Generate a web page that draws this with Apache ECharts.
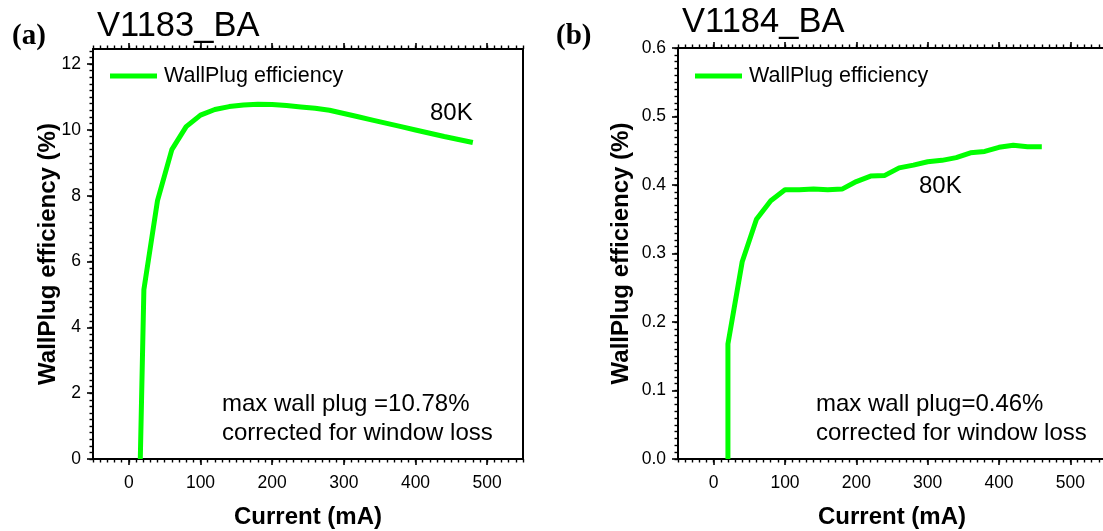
<!DOCTYPE html>
<html>
<head>
<meta charset="utf-8">
<script src="https://cdn.jsdelivr.net/npm/echarts@6/dist/echarts.min.js"></script>
<style>
html,body{margin:0;padding:0;background:#fff;}
#chart{width:1103px;height:531px;}
</style>
</head>
<body>
<div id="chart"></div>
<script>
// ---- data ----
const currentA = [16, 21, 40, 60, 80, 100, 120, 140, 160, 180, 200, 220, 240, 260, 280, 300, 320, 340, 360, 380, 400, 420, 440, 460, 480];
const wpeA     = [0, 5.15, 7.85, 9.4, 10.1, 10.45, 10.62, 10.71, 10.76, 10.78, 10.77, 10.74, 10.70, 10.66, 10.60, 10.50, 10.40, 10.30, 10.20, 10.10, 10.0, 9.90, 9.80, 9.71, 9.62];
const currentB = [20, 20, 40, 60, 80, 100, 120, 140, 160, 180, 200, 220, 240, 260, 280, 300, 320, 340, 360, 380, 400, 420, 440, 460];
const wpeB     = [0, 0.168, 0.288, 0.350, 0.377, 0.393, 0.393, 0.394, 0.393, 0.394, 0.405, 0.413, 0.414, 0.425, 0.429, 0.434, 0.436, 0.440, 0.447, 0.449, 0.455, 0.458, 0.456, 0.456];

const xTickLabels  = [0, 100, 200, 300, 400, 500];
const yTickLabelsA = [0, 2, 4, 6, 8, 10, 12];
const yTickLabelsB = [0.0, 0.1, 0.2, 0.3, 0.4, 0.5, 0.6];

const seriesName = 'WallPlug efficiency';
const titleA = 'V1183_BA', titleB = 'V1184_BA';
const panelA = '(a)', panelB = '(b)';
const tempLabel = '80K';
const noteA = ['max wall plug =10.78%', 'corrected for window loss'];
const noteB = ['max wall plug=0.46%', 'corrected for window loss'];
const xName = 'Current (mA)';
const yName = 'WallPlug efficiency (%)';

// ---- helpers ----
const SANS = "'Liberation Sans', Arial, sans-serif";
const SERIF = "'Liberation Serif', 'Times New Roman', serif";
const BLACK = '#000';
const GREEN = '#00ff00';

function steps(from, to, step) {
  const out = [];
  const n = Math.round((to - from) / step);
  for (let i = 0; i <= n; i++) out.push(+(from + i * step).toFixed(6));
  return out;
}
const xMin = -50, xMax = 550;
const xMinor = steps(-50, 550, 10);
const yMaxA = 12.46, yMaxB = 0.6;
const yMinorA = steps(0, 12.4, 0.2);
const yMinorB = steps(0, 0.6, 0.01);

const lineStyle = { color: BLACK, width: 2 };
const noLine = { show: false, onZero: false };
const frameLine = { show: true, onZero: false, lineStyle };
const majorTick = { color: BLACK, width: 1.6 };
const minorTick = { color: BLACK, width: 1.4 };

function xAxes(gridIndex, withName) {
  return [
    { type: 'value', gridIndex, position: 'bottom', min: xMin, max: xMax,
      axisLine: frameLine,
      axisTick: { show: true, inside: false, length: 6, lineStyle: majorTick, customValues: xTickLabels },
      axisLabel: { show: true, customValues: xTickLabels, fontSize: 17.5, color: BLACK, fontFamily: SANS, margin: 15 },
      splitLine: { show: false },
      name: withName ? xName : '', nameLocation: 'middle', nameGap: 46, nameMoveOverlap: false,
      nameTextStyle: { fontSize: 24, fontWeight: 'bold', color: BLACK, fontFamily: SANS } },
    { type: 'value', gridIndex, position: 'bottom', min: xMin, max: xMax,
      axisLine: noLine,
      axisTick: { show: true, length: 3.5, lineStyle: minorTick, customValues: xMinor },
      axisLabel: { show: false }, splitLine: { show: false } },
    { type: 'value', gridIndex, position: 'top', min: xMin, max: xMax,
      axisLine: frameLine,
      axisTick: { show: true, length: 6, lineStyle: majorTick, customValues: xTickLabels },
      axisLabel: { show: false }, splitLine: { show: false } },
    { type: 'value', gridIndex, position: 'top', min: xMin, max: xMax,
      axisLine: noLine,
      axisTick: { show: true, length: 3.5, lineStyle: minorTick, customValues: xMinor },
      axisLabel: { show: false }, splitLine: { show: false } }
  ];
}
function yAxes(gridIndex, yMax, labels, minor, fmt) {
  return [
    { type: 'value', gridIndex, position: 'left', min: 0, max: yMax,
      axisLine: frameLine,
      axisTick: { show: true, length: 6, lineStyle: majorTick, customValues: labels },
      axisLabel: { show: true, customValues: labels, fontSize: 17.5, color: BLACK, fontFamily: SANS, margin: 12, formatter: fmt },
      splitLine: { show: false },
      name: yName, nameLocation: 'middle', nameGap: gridIndex === 0 ? 33 : 45,
      nameMoveOverlap: false,
      nameTextStyle: { fontSize: 24, fontWeight: 'bold', color: BLACK, fontFamily: SANS } },
    { type: 'value', gridIndex, position: 'left', min: 0, max: yMax,
      axisLine: noLine,
      axisTick: { show: true, length: 3.5, lineStyle: minorTick, customValues: minor },
      axisLabel: { show: false }, splitLine: { show: false } },
    { type: 'value', gridIndex, position: 'right', min: 0, max: yMax,
      axisLine: frameLine,
      axisTick: { show: false }, axisLabel: { show: false }, splitLine: { show: false } }
  ];
}

function txt(x, y, text, fontSize, opts) {
  opts = opts || {};
  return { type: 'text', x: 0, y: 0, silent: true, z: 100,
    style: { x, y, text, fill: BLACK, fontSize, fontFamily: opts.family || SANS,
      fontWeight: opts.weight || 'normal', align: 'left', verticalAlign: 'middle' } };
}

const chart = echarts.init(document.getElementById('chart'), null, { renderer: 'canvas' });
const option = {
  animation: false,
  backgroundColor: '#fff',
  grid: [
    { left: 93, top: 49, width: 430, height: 410, containLabel: false, outerBoundsMode: 'none' },
    { left: 678, top: 48, width: 428, height: 411, containLabel: false, outerBoundsMode: 'none' }
  ],
  xAxis: [...xAxes(0, true), ...xAxes(1, true)],
  yAxis: [...yAxes(0, yMaxA, yTickLabelsA, yMinorA, v => String(v)),
          ...yAxes(1, yMaxB, yTickLabelsB, yMinorB, v => v.toFixed(1))],
  legend: [
    { data: [seriesName], left: 110, top: 65, padding: 0, icon: 'rect', itemWidth: 47, itemHeight: 5,
      selectedMode: false, textStyle: { fontSize: 21.5, color: BLACK, fontFamily: SANS, padding: [0, 0, 0, 2] } },
    { data: [seriesName], left: 695, top: 65, padding: 0, icon: 'rect', itemWidth: 47, itemHeight: 5,
      selectedMode: false, textStyle: { fontSize: 21.5, color: BLACK, fontFamily: SANS, padding: [0, 0, 0, 2] } }
  ],
  series: [
    { name: seriesName, type: 'line', xAxisIndex: 0, yAxisIndex: 0,
      data: currentA.map((c, i) => [c, wpeA[i]]), showSymbol: false, symbol: 'none',
      color: GREEN, itemStyle: { color: GREEN }, lineStyle: { color: GREEN, width: 5 } },
    { name: seriesName, type: 'line', xAxisIndex: 4, yAxisIndex: 3,
      data: currentB.map((c, i) => [c, wpeB[i]]), showSymbol: false, symbol: 'none',
      color: GREEN, itemStyle: { color: GREEN }, lineStyle: { color: GREEN, width: 5 } }
  ],
  graphic: [
    txt(12, 37, panelA, 29, { family: SERIF, weight: 'bold' }),
    txt(556, 37, panelB, 29, { family: SERIF, weight: 'bold' }),
    txt(97, 26, titleA, 34.5),
    txt(682, 22.5, titleB, 34.5),
    txt(430, 113, tempLabel, 24),
    txt(919, 186, tempLabel, 24),
    txt(222, 404, noteA[0], 24),
    txt(222, 433.5, noteA[1], 24),
    txt(816, 404, noteB[0], 24),
    txt(816, 433.5, noteB[1], 24)
  ]
};
chart.setOption(option);
</script>
</body>
</html>
